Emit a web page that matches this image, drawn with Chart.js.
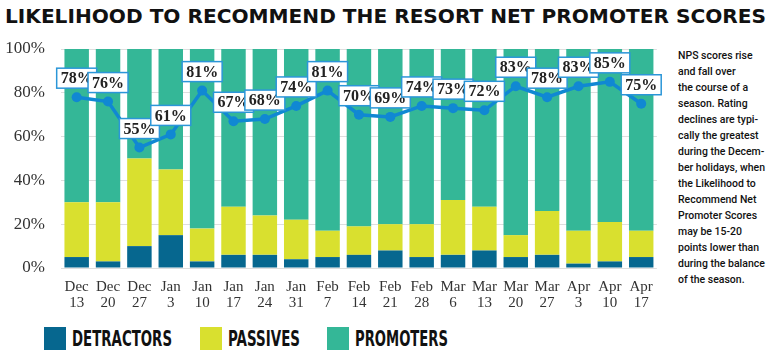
<!DOCTYPE html>
<html>
<head>
<meta charset="utf-8">
<script src="https://cdn.jsdelivr.net/npm/chart.js@4.4.1/dist/chart.umd.min.js"></script>
<style>
  html, body { margin: 0; padding: 0; background: #fff; }
  body { width: 770px; height: 361px; position: relative; overflow: hidden; }
  #title {
    position: absolute; left: 5px; top: 5px; white-space: nowrap;
    font: bold 19px "DejaVu Sans", sans-serif; color: #111;
    transform-origin: 0 0;
  }
  #chartBox { position: absolute; left: 0; top: 0; width: 664px; height: 322px; }
  #note {
    position: absolute; left: 678px; top: 47px; white-space: nowrap;
    font: 500 11.5px Roboto, "Liberation Sans", sans-serif; line-height: 16px; color: #111;
    transform-origin: 0 0;
  }
  #legend { position: absolute; left: 0; top: 327px; height: 24px; }
  .lg-box { position: absolute; top: 0; width: 22px; height: 23px; }
  .lg-txt {
    position: absolute; top: 1px; white-space: nowrap;
    font: bold 20.5px "DejaVu Sans", sans-serif; color: #111; line-height: 23px;
    transform-origin: 0 0;
  }
</style>
</head>
<body>
<div id="title">LIKELIHOOD TO RECOMMEND THE RESORT NET PROMOTER SCORES</div>
<div id="chartBox"><canvas id="nps"></canvas></div>
<div id="note">NPS scores rise<br>and fall over<br>the course of a<br>season. Rating<br>declines are typi-<br>cally the greatest<br>during the Decem-<br>ber holidays, when<br>the Likelihood to<br>Recommend Net<br>Promoter Scores<br>may be 15-20<br>points lower than<br>during the balance<br>of the season.</div>
<div id="legend"></div>
<script>
// ── Data ───────────────────────────────────────
const weeks = [
  ['Dec', '13'], ['Dec', '20'], ['Dec', '27'], ['Jan', '3'], ['Jan', '10'],
  ['Jan', '17'], ['Jan', '24'], ['Jan', '31'], ['Feb', '7'], ['Feb', '14'],
  ['Feb', '21'], ['Feb', '28'], ['Mar', '6'], ['Mar', '13'], ['Mar', '20'],
  ['Mar', '27'], ['Apr', '3'], ['Apr', '10'], ['Apr', '17'],
];
const detractors = [5, 3, 10, 15, 3, 6, 6, 4, 5, 6, 8, 5, 6, 8, 5, 6, 2, 3, 5];
const passives   = [25, 27, 40, 30, 15, 22, 18, 18, 12, 13, 12, 15, 25, 20, 10, 20, 15, 18, 12];
const promoters  = [70, 70, 50, 55, 82, 72, 76, 78, 83, 81, 80, 80, 69, 72, 85, 74, 83, 79, 83];
const npsScores  = [78, 76, 55, 61, 81, 67, 68, 74, 81, 70, 69, 74, 73, 72, 83, 78, 83, 85, 75];
const yTicks = [0, 20, 40, 60, 80, 100];

const seriesNames  = ['DETRACTORS', 'PASSIVES', 'PROMOTERS'];
const seriesColors = ['#06678f', '#d9e02f', '#34b797'];
const lineColor = '#1088d3';

// ── Helpers ───────────────────────────────────────
function fitWidth(el, w) {
  const s = w / el.getBoundingClientRect().width;
  el.style.transform = 'scaleX(' + s + ')';
}

// labels boxed above each NPS point
const boxLabels = {
  id: 'boxLabels',
  afterDatasetsDraw(chart) {
    const meta = chart.getDatasetMeta(3);
    const ctx = chart.ctx;
    ctx.save();
    ctx.font = 'bold 16px "Liberation Serif", serif';
    ctx.textAlign = 'center';
    ctx.textBaseline = 'middle';
    meta.data.forEach((pt, i) => {
      const txt = npsScores[i] + '%';
      const w = 40, h = 20;
      const cx = pt.x, cy = pt.y - 19;
      ctx.fillStyle = '#fff';
      ctx.fillRect(cx - w / 2, cy - h / 2, w, h);
      ctx.strokeStyle = '#2b96d8';
      ctx.lineWidth = 1.5;
      ctx.strokeRect(cx - w / 2, cy - h / 2, w, h);
      ctx.fillStyle = '#222';
      ctx.fillText(txt, cx, cy + 1);
    });
    ctx.restore();
  },
};

// ── Chart ───────────────────────────────────────
const barSets = [detractors, passives, promoters].map((vals, i) => ({
  type: 'bar',
  label: seriesNames[i],
  data: vals,
  backgroundColor: seriesColors[i],
  borderWidth: 0,
  barPercentage: 0.78,
  categoryPercentage: 1,
  stack: 'bars',
  order: 1,
}));

new Chart(document.getElementById('nps').getContext('2d'), {
  type: 'bar',
  data: {
    labels: weeks,
    datasets: [
      ...barSets,
      {
        type: 'line',
        label: 'NPS',
        data: npsScores,
        borderColor: lineColor,
        backgroundColor: lineColor,
        borderWidth: 3.5,
        pointRadius: 5,
        pointBackgroundColor: lineColor,
        pointBorderWidth: 0,
        tension: 0,
        stack: 'nps',
        order: 0,
      },
    ],
  },
  options: {
    responsive: true,
    maintainAspectRatio: false,
    animation: false,
    events: [],
    layout: { padding: { top: 49, right: 4, left: 0, bottom: 0 } },
    plugins: { legend: { display: false }, tooltip: { enabled: false } },
    scales: {
      x: {
        stacked: true,
        grid: { display: false, drawTicks: false },
        border: { display: false },
        ticks: {
          color: '#333',
          padding: 11,
          maxRotation: 0,
          autoSkip: false,
          font: { family: '"Liberation Serif", serif', size: 15, lineHeight: 1.05 },
        },
        afterFit: (axis) => { axis.height = 54; },
      },
      y: {
        stacked: true,
        min: 0,
        max: 100,
        afterBuildTicks: (axis) => { axis.ticks = yTicks.map(v => ({ value: v })); },
        grid: { color: '#dedede', drawTicks: false },
        border: { display: false },
        ticks: {
          color: '#333',
          padding: 16,
          font: { family: '"Liberation Serif", serif', size: 17 },
          callback: (v) => v + '%',
        },
        afterFit: (axis) => { axis.width = 61; },
      },
    },
  },
  plugins: [boxLabels],
});

// ── Legend & text fitting ───────────────────────────────────────
const legendPos = [[44, 72, 100], [200, 228, 72], [327, 355, 93]];
const legend = document.getElementById('legend');
seriesNames.forEach((name, i) => {
  const [bx, tx, tw] = legendPos[i];
  const box = document.createElement('div');
  box.className = 'lg-box';
  box.style.left = bx + 'px';
  box.style.background = seriesColors[i];
  legend.appendChild(box);
  const t = document.createElement('div');
  t.className = 'lg-txt';
  t.style.left = tx + 'px';
  t.textContent = name;
  legend.appendChild(t);
  fitWidth(t, tw);
});
fitWidth(document.getElementById('title'), 761);
fitWidth(document.getElementById('note'), 87);
</script>
</body>
</html>
